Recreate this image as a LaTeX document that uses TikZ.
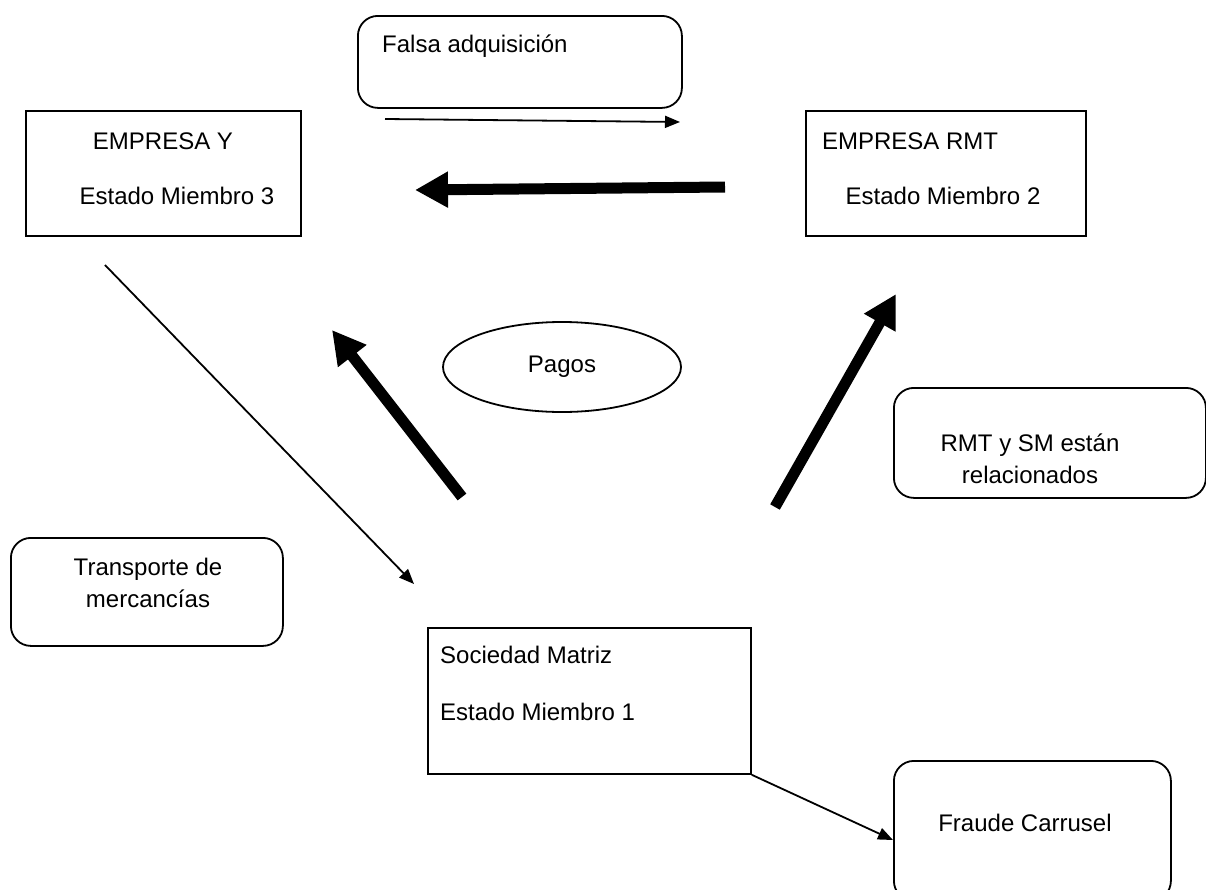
\documentclass[tikz,border=0pt]{standalone}
\usepackage{fontspec}
\setmainfont{Liberation Sans}
\usetikzlibrary{arrows.meta,shapes.geometric}
\begin{document}
\begin{tikzpicture}[x=1pt,y=-1pt,
  every node/.style={font=\fontsize{24}{28}\selectfont, inner sep=0pt},
  sqbox/.style={draw, line width=1.8pt, rectangle, anchor=north west},
  rbox/.style={draw, line width=1.8pt, rectangle, rounded corners=20pt, anchor=north west},
  txt/.style={align=center},
  thin/.style={line width=1.8pt, -{Triangle[length=15pt,width=12pt]}},
  thick/.style={line width=11pt, -{Triangle[length=33pt,width=34pt]}}]
\useasboundingbox (0,0) rectangle (1206,889);
% boxes
\node[rbox, minimum width=324pt, minimum height=92pt] (fa) at (357,15) {};
\node[anchor=west] (fatxt) at (382,46) {Falsa adquisición};
\node[sqbox, minimum width=275pt, minimum height=125pt] (ey) at (25,110) {};
\node (ey1) at (163,141) {EMPRESA Y};
\node (ey2) at (177,196) {Estado Miembro 3};
\node[sqbox, minimum width=280pt, minimum height=125pt] (rmt) at (805,110) {};
\node (rmt1) at (910,141) {EMPRESA RMT};
\node (rmt2) at (943,196) {Estado Miembro 2};
\node[draw, line width=1.8pt, ellipse, minimum width=238pt, minimum height=90pt] (pagos) at (562,367) {Pagos};
\node[rbox, minimum width=312pt, minimum height=110pt] (rel) at (893,387) {};
\node[txt] (reltxt) at (1030,459) {RMT y SM están\\[4pt]relacionados};
\node[rbox, minimum width=272pt, minimum height=108pt] (tm) at (10,537) {};
\node[txt] (tmtxt) at (148,583) {Transporte de\\[4pt]mercancías};
\node[sqbox, minimum width=323pt, minimum height=146pt] (sm) at (427,627) {};
\node[anchor=west] (sm1) at (440,655) {Sociedad Matriz};
\node[anchor=west] (sm2) at (440,712) {Estado Miembro 1};
\node[rbox, minimum width=277pt, minimum height=140pt] (fc) at (893,760) {};
\node (fctxt) at (1025,823) {Fraude Carrusel};
% free arrow ends
\coordinate (a1s) at (385,119);
\coordinate (a1e) at (680,122);
\coordinate (a2s) at (725,187);
\coordinate (a2e) at (415,190);
\coordinate (a3s) at (462,497);
\coordinate (a3e) at (332,330);
\coordinate (a4s) at (775,507);
\coordinate (a4e) at (896,294);
\coordinate (a5s) at (105,265);
\coordinate (a5e) at (414,584);
% connectors
\draw[thin] (a1s) -- (a1e);
\draw[thick] (a2s) -- (a2e);
\draw[thick] (a3s) -- (a3e);
\draw[thick] (a4s) -- (a4e);
\draw[thin] (a5s) -- (a5e);
\draw[thin] (sm.south east) -- (fc.west |- 0,840);
\end{tikzpicture}
\end{document}
